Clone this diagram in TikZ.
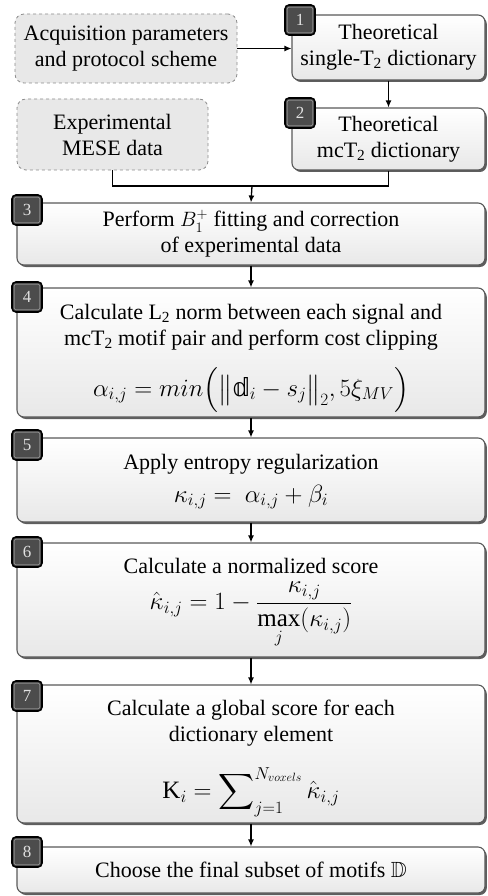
\documentclass[tikz,border=0pt]{standalone}
\usepackage{amsmath,amssymb}
\usepackage{fontspec}
\setmainfont{Liberation Serif}
\newfontfamily\dejavu{DejaVu Sans}
\usetikzlibrary{shadows,arrows.meta}
\newcommand{\dsd}{\text{\dejavu 𝕕}}
\tikzset{
  stepbox/.style={draw=black!65, line width=1.1pt, rounded corners=7pt,
    top color=white, bottom color=black!9, inner sep=0pt,
    drop shadow={shadow xshift=1.8pt, shadow yshift=-2pt, fill=black!70, opacity=0.9}},
  inbox/.style={draw=black!45, dashed, line width=0.8pt, rounded corners=9pt,
    fill=black!9, align=center, inner sep=0pt},
  badge/.style={draw=black, line width=1.6pt, rounded corners=4pt, fill=black!70,
    minimum width=30pt, minimum height=30pt, inner sep=0pt,
    font=\fontsize{17}{17}\selectfont, text=white!88!black,
    path picture={\draw[black!45,line width=0.7pt,rounded corners=2pt]
      ([shift={(2.2pt,-2.2pt)}]path picture bounding box.north west) rectangle
      ([shift={(-2.2pt,2.2pt)}]path picture bounding box.south east);}},
  txt/.style={align=center, inner sep=0pt},
  fml/.style={align=center, inner sep=0pt, font=\fontsize{25}{30}\selectfont},
  conn/.style={line width=1.3pt, black},
  arr/.style={conn, -{Latex[length=7pt,width=6pt]}}
}
\begin{document}
\begin{tikzpicture}[x=1pt,y=-1pt, font=\fontsize{22}{26}\selectfont]
\useasboundingbox (0,0) rectangle (487,896);
% input boxes
\node[inbox, minimum width=222pt, minimum height=69pt] (acq) at (126,48.5)
  {Acquisition parameters\\and protocol scheme};
\node[inbox, minimum width=191pt, minimum height=71pt] (exp) at (112.5,134.5)
  {Experimental\\MESE data};
% step boxes
\node[stepbox, minimum width=193pt, minimum height=65pt] (b1) at (388.5,47.5) {};
\node[stepbox, minimum width=193pt, minimum height=62pt] (b2) at (388.5,139) {};
\node[stepbox, minimum width=468pt, minimum height=62pt] (b3) at (251,234) {};
\node[stepbox, minimum width=468pt, minimum height=129pt] (b4) at (251,352.5) {};
\node[stepbox, minimum width=468pt, minimum height=84pt] (b5) at (251,480) {};
\node[stepbox, minimum width=468pt, minimum height=114pt] (b6) at (251,600) {};
\node[stepbox, minimum width=468pt, minimum height=138pt] (b7) at (251,754) {};
\node[stepbox, minimum width=468pt, minimum height=46pt] (b8) at (251,870) {};
% texts
\node[txt] (t1) at (b1) {Theoretical\\single-T\textsubscript{2} dictionary};
\node[txt] (t2) at (b2) {Theoretical\\mcT\textsubscript{2} dictionary};
\node[txt] (t3) at (b3) {Perform $B_1^{+}$ fitting and correction\\of experimental data};
\node[txt] (t4) at (251,327) {Calculate L\textsubscript{2} norm between each signal and\\mcT\textsubscript{2} motif pair and perform cost clipping};
\node[fml] (f4) at (251,390) {$\alpha_{i,j} = min\Bigl(\bigl\|\dsd_i - s_j\bigr\|_2, 5\xi_{MV}\Bigr)$};
\node[txt] (t5) at (251,464) {Apply entropy regularization};
\node[fml] (f5) at (251,497) {$\kappa_{i,j} =\ \alpha_{i,j} + \beta_i$};
\node[fml] (f6) at (251,615) {$\hat\kappa_{i,j} = 1 - \dfrac{\kappa_{i,j}}{\max\limits_{j}(\kappa_{i,j})}$};
\node[txt] (t6) at (251,566) {Calculate a normalized score};
\node[txt] (t7) at (251,723) {Calculate a global score for each\\dictionary element};
\node[fml] (f7) at (251,792) {$\mathrm{K}_i = \displaystyle\sum\nolimits_{j=1}^{N_{voxels}} \hat\kappa_{i,j}$};
\node[txt] (t8) at (b8) {Choose the final subset of motifs $\mathbb{D}$};
% badges
\node[badge] (n1) at (300,20) {1};
\node[badge] (n2) at (300,113) {2};
\node[badge] (n3) at (27,210) {3};
\node[badge] (n4) at (27,297) {4};
\node[badge] (n5) at (27,445) {5};
\node[badge] (n6) at (27,552) {6};
\node[badge] (n7) at (27,696) {7};
\node[badge] (n8) at (27,852) {8};
% connectors
\coordinate (j) at (252,186);
\draw[arr] (acq.east) -- (acq.east -| b1.west);
\draw[arr] (b1.south) -- (b2.north);
\draw[conn] (exp.south) |- (j) -| (b2.south);
\draw[arr] (j) -- (b3.north);
\draw[arr] (b3.south) -- (b4.north);
\draw[arr] (b4.south) -- (b5.north);
\draw[arr] (b5.south) -- (b6.north);
\draw[arr] (b6.south) -- (b7.north);
\draw[arr] (b7.south) -- (b8.north);
\end{tikzpicture}
\end{document}
